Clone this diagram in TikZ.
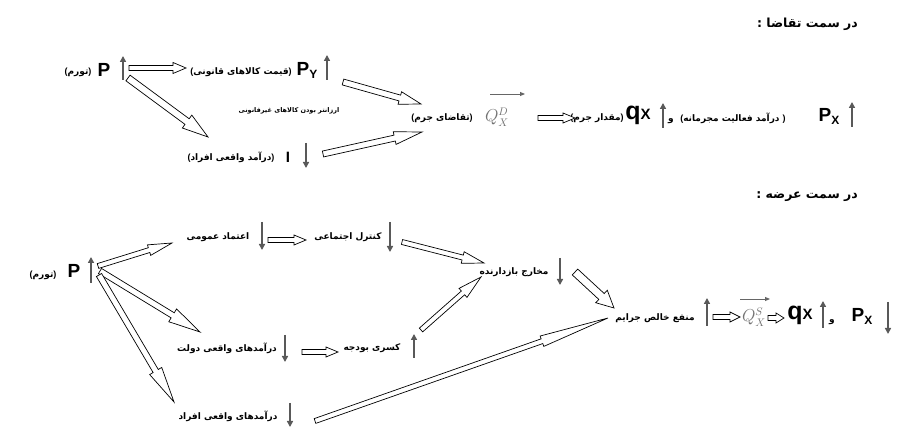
\documentclass[tikz,border=0pt]{standalone}
\usepackage{fontspec}
\setmainfont{Liberation Sans}
\newfontfamily\fa[Script=Arabic]{DejaVu Sans}
\TeXXeTstate=1
\usetikzlibrary{calc,arrows.meta}
\newcommand\opnp{{\rmfamily\bfseries(}}
\newcommand\clsp{{\rmfamily\bfseries)}}
\tikzset{
  fa/.style={font=\fa\bfseries\fontsize{9}{11}\selectfont, inner sep=0pt},
  fasmall/.style={font=\fa\bfseries\fontsize{6.5}{8}\selectfont, inner sep=0pt},
  titlefa/.style={font=\fa\bfseries\fontsize{12.5}{14}\selectfont, inner sep=0pt},
  sym/.style={font=\bfseries\fontsize{19}{21}\selectfont, inner sep=0pt},
  bigq/.style={font=\bfseries\fontsize{25}{27}\selectfont, inner sep=0pt},
  qmath/.style={font=\fontsize{16}{17}\selectfont, text=black!55, inner sep=0pt},
  vup/.style={draw=black!65, line width=1.5pt, -{Triangle[length=6pt,width=6pt]}},
  overarr/.style={draw=black!60, line width=0.9pt, -{Triangle[length=5pt,width=4pt]}},
  hol/.style={draw=black, line width=0.7pt, fill=white, line join=miter},
}
\newcommand\harr[5]{%
  \coordinate (hb) at ($(#2)!#4pt!(#1)$);
  \draw[hol] ($(#1)!#3pt!90:(#2)$) -- ($(hb)!#3pt!90:(#2)$) -- ($(hb)!#5pt!90:(#2)$) -- (#2) -- ($(hb)!#5pt!-90:(#2)$) -- ($(hb)!#3pt!-90:(#2)$) -- ($(#1)!#3pt!-90:(#2)$) -- cycle;
}
\begin{document}
\begin{tikzpicture}[x=1pt,y=-1pt]
\useasboundingbox (0,0) rectangle (897,427);
\fill[white] (0,0) rectangle (897,427);

% ---------- titles
\node[titlefa, anchor=east] (t1) at (858,24) {\beginR در سمت تقاضا :\endR};
\node[titlefa, anchor=east] (t2) at (858,197) {\beginR در سمت عرضه :\endR};

% ---------- demand side
\node[fa] (tav1) at (78,72) {\opnp\beginR تورم\endR\clsp};
\node[sym] (P1) at (104,70) {P};
\coordinate (u1a) at (123,80); \coordinate (u1b) at (123,56);
\draw[vup] (u1a) -- (u1b);

\node[fa] (qimat) at (241,72) {\opnp\beginR قیمت کالاهای قانونی\endR\clsp};
\node[sym] (PY) at (307,70) {P\raisebox{-3pt}{\fontsize{12}{12}\selectfont Y}};
\coordinate (u2a) at (327,80); \coordinate (u2b) at (327,55);
\draw[vup] (u2a) -- (u2b);

\node[fasmall] (arzan) at (289,111) {\beginR ارزانتر بودن کالاهای غیرقانونی\endR};

\node[fa] (afrad1) at (231,157) {\opnp\beginR درآمد واقعی افراد\endR\clsp};
\node[sym, font=\bfseries\fontsize{15}{16}\selectfont] (I1) at (288,157) {I};
\coordinate (d1a) at (306,143); \coordinate (d1b) at (306,168);
\draw[vup] (d1a) -- (d1b);

\node[fa] (taqaza) at (442,118) {\opnp\beginR تقاضای جرم\endR\clsp};
\node[qmath] (Q1) at (497,117) {$Q^{D}_{X}$};
\coordinate (q1a) at (490,94); \coordinate (q1b) at (525,94);
\draw[overarr] (q1a) -- (q1b);

\node[fa] (meqdar) at (597,118) {\opnp\beginR مقدار جرم\endR\clsp};
\node[bigq] (qX1) at (638,115) {q{\fontsize{15}{15}\selectfont X}};
\coordinate (u3a) at (663,128); \coordinate (u3b) at (663,103);
\draw[vup] (u3a) -- (u3b);
\node[fa] (va1) at (671,121) {\beginR و\endR};
\node[fa] (daramad) at (733,118) {\opnp\beginR درآمد فعالیت مجرمانه\endR\ \clsp};
\node[sym] (PX1) at (829,116) {P\raisebox{-3pt}{\fontsize{12}{12}\selectfont X}};
\coordinate (u4a) at (852,127); \coordinate (u4b) at (852,102);
\draw[vup] (u4a) -- (u4b);

\coordinate (a1s) at (129,68);  \coordinate (a1e) at (186,68);
\harr{a1s}{a1e}{2.5}{13}{5.5}
\coordinate (a2s) at (343,82);  \coordinate (a2e) at (421,104);
\harr{a2s}{a2e}{3}{22}{6.5}
\coordinate (a3s) at (128,78);  \coordinate (a3e) at (208,137);
\harr{a3s}{a3e}{3.5}{26}{8}
\coordinate (a4s) at (323,154); \coordinate (a4e) at (422,132);
\harr{a4s}{a4e}{3}{28}{6.5}
\coordinate (a5s) at (538,118); \coordinate (a5e) at (575,118);
\harr{a5s}{a5e}{2.5}{12}{5}

% ---------- supply side
\node[fa] (tav2) at (43,275) {\opnp\beginR تورم\endR\clsp};
\node[sym] (P2) at (74,271) {P};
\coordinate (u5a) at (91,283); \coordinate (u5b) at (91,257);
\draw[vup] (u5a) -- (u5b);

\node[fa] (etemad) at (218,237) {\beginR اعتماد عمومی\endR};
\coordinate (d2a) at (262,222); \coordinate (d2b) at (262,250);
\draw[vup] (d2a) -- (d2b);
\node[fa] (kontrol) at (348,237) {\beginR کنترل اجتماعی\endR};
\coordinate (d3a) at (390,222); \coordinate (d3b) at (390,252);
\draw[vup] (d3a) -- (d3b);
\node[fa] (makharej) at (514,272) {\beginR مخارج بازدارنده\endR};
\coordinate (d4a) at (560,258); \coordinate (d4b) at (560,285);
\draw[vup] (d4a) -- (d4b);

\node[fa] (dolat) at (227,348) {\beginR درآمدهای واقعی دولت\endR};
\coordinate (d5a) at (285,335); \coordinate (d5b) at (285,362);
\draw[vup] (d5a) -- (d5b);
\node[fa] (kasri) at (372,348) {\beginR کسری بودجه\endR};
\coordinate (u6a) at (414,358); \coordinate (u6b) at (414,334);
\draw[vup] (u6a) -- (u6b);

\node[fa] (afrad2) at (228,416) {\beginR درآمدهای واقعی افراد\endR};
\coordinate (d6a) at (290,403); \coordinate (d6b) at (290,427);
\draw[vup] (d6a) -- (d6b);

\node[fa] (manfa) at (655,318) {\beginR منفع خالص جرایم\endR};
\coordinate (u7a) at (707,326); \coordinate (u7b) at (707,298);
\draw[vup] (u7a) -- (u7b);
\node[qmath] (Q2) at (754,317) {$Q^{S}_{X}$};
\coordinate (q2a) at (740,299); \coordinate (q2b) at (770,299);
\draw[overarr] (q2a) -- (q2b);
\node[bigq] (qX2) at (800,315) {q{\fontsize{15}{15}\selectfont X}};
\coordinate (u8a) at (823,328); \coordinate (u8b) at (823,301);
\draw[vup] (u8a) -- (u8b);
\node[fa] (va2) at (832,322) {\beginR و\endR};
\node[sym] (PX2) at (862,316) {P\raisebox{-3pt}{\fontsize{12}{12}\selectfont X}};
\coordinate (d7a) at (888,302); \coordinate (d7b) at (888,334);
\draw[vup] (d7a) -- (d7b);

\coordinate (b1s) at (98,266);  \coordinate (b1e) at (172,243);
\harr{b1s}{b1e}{2.5}{24}{5.5}
\coordinate (b2s) at (100,271); \coordinate (b2e) at (200,332);
\harr{b2s}{b2e}{3}{32}{7.5}
\coordinate (b3s) at (99,275);  \coordinate (b3e) at (174,402);
\harr{b3s}{b3e}{3}{36}{7}
\coordinate (b4s) at (268,240); \coordinate (b4e) at (306,240);
\harr{b4s}{b4e}{2.5}{12}{5}
\coordinate (b5s) at (402,242); \coordinate (b5e) at (484,263);
\harr{b5s}{b5e}{2.5}{22}{6}
\coordinate (b6s) at (421,330); \coordinate (b6e) at (481,277);
\harr{b6s}{b6e}{2.5}{24}{6}
\coordinate (b7s) at (575,272); \coordinate (b7e) at (614,308);
\harr{b7s}{b7e}{4}{17}{8.5}
\coordinate (b8s) at (302,352); \coordinate (b8e) at (338,352);
\harr{b8s}{b8e}{2.5}{12}{5}
\coordinate (b9s) at (315,421); \coordinate (b9e) at (608,318);
\harr{b9s}{b9e}{2.5}{70}{5.5}
\coordinate (b10s) at (713,317); \coordinate (b10e) at (740,317);
\harr{b10s}{b10e}{2.5}{10}{5}
\coordinate (b11s) at (768,318); \coordinate (b11e) at (784,318);
\harr{b11s}{b11e}{2.5}{8}{5}
\end{tikzpicture}
\end{document}
